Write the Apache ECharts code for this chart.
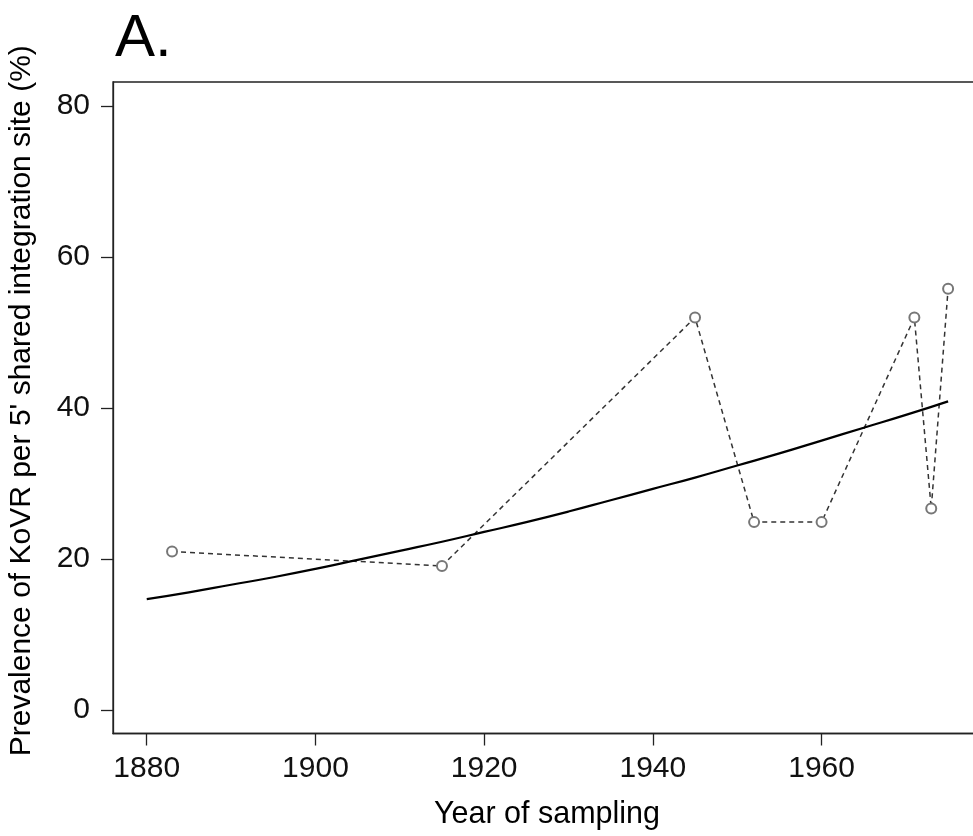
<!DOCTYPE html>
<html>
<head>
<meta charset="utf-8">
<script src="https://cdn.jsdelivr.net/npm/echarts@6/dist/echarts.min.js"></script>
<style>html,body{margin:0;padding:0;background:#fff}#c{width:973px;height:836px}</style>
</head>
<body>
<div id="c"></div>
<script>
// Observed prevalence per sampling year
const sampleYears = [1883, 1915, 1945, 1952, 1960, 1971, 1973, 1975];
const samplePrev = [21.0, 19.1, 52.0, 24.9, 24.9, 52.0, 26.7, 55.8];
// Fitted trend curve
const fitYears = [1880, 1885, 1890, 1895, 1900, 1905, 1910, 1915, 1920, 1925, 1930, 1935, 1940, 1945, 1950, 1955, 1960, 1965, 1970, 1975];
const fitPrev = [14.7, 15.6, 16.6, 17.6, 18.7, 19.9, 21.1, 22.3, 23.6, 24.9, 26.3, 27.8, 29.3, 30.8, 32.4, 34.0, 35.7, 37.4, 39.1, 40.9];
// Tick labels
const xTicks = [1880, 1900, 1920, 1940, 1960];
const yTicks = [0, 20, 40, 60, 80];

const FONT = '"Liberation Sans", Arial, sans-serif';
const chart = echarts.init(document.getElementById('c'), null, {renderer: 'canvas'});
chart.setOption({
  animation: false,
  backgroundColor: '#fff',
  title: {
    text: 'A.',
    left: 110,
    top: 4,
    textStyle: {fontFamily: FONT, fontSize: 60, fontWeight: 'normal', color: '#000'}
  },
  grid: {
    left: 113, top: 82, right: -8, bottom: 102.5,
    containLabel: false,
    outerBoundsMode: 'none',
    show: true, borderColor: '#222', borderWidth: 1.3, backgroundColor: 'transparent'
  },
  xAxis: {
    type: 'value',
    min: 1876.0, max: 1978.9,
    name: 'Year of sampling',
    nameLocation: 'middle',
    nameGap: 66,
    nameTextStyle: {fontFamily: FONT, fontSize: 30.5, color: '#000'},
    axisLine: {show: true, onZero: false, lineStyle: {color: '#222', width: 1.3}},
    axisTick: {show: true, length: 12, lineStyle: {color: '#222', width: 1.3}, customValues: xTicks},
    axisLabel: {fontFamily: FONT, fontSize: 30, color: '#111', margin: 20, customValues: xTicks,
      formatter: v => String(v)},
    splitLine: {show: false}
  },
  yAxis: {
    type: 'value',
    min: -3.1, max: 83.2,
    name: "Prevalence of KoVR per 5' shared integration site (%)",
    nameLocation: 'middle',
    nameGap: 76,
    nameTextStyle: {fontFamily: FONT, fontSize: 30, color: '#000', padding: [0, 0, 0, 14]},
    axisLine: {show: true, onZero: false, lineStyle: {color: '#222', width: 1.3}},
    axisTick: {show: true, length: 12, lineStyle: {color: '#222', width: 1.3}, customValues: yTicks},
    axisLabel: {fontFamily: FONT, fontSize: 30, color: '#111', margin: 23, customValues: yTicks,
      formatter: v => String(v)},
    splitLine: {show: false}
  },
  series: [
    {
      type: 'line',
      data: sampleYears.map((y, i) => [y, samplePrev[i]]),
      symbol: 'emptyCircle',
      symbolSize: 10,
      showSymbol: true,
      itemStyle: {color: '#777', borderWidth: 1.4},
      lineStyle: {color: '#333', width: 1.5, type: [5, 4]},
      z: 3
    },
    {
      type: 'line',
      data: fitYears.map((y, i) => [y, fitPrev[i]]),
      symbol: 'none',
      smooth: true,
      lineStyle: {color: '#000', width: 2.2},
      z: 4
    }
  ]
});
</script>
</body>
</html>
